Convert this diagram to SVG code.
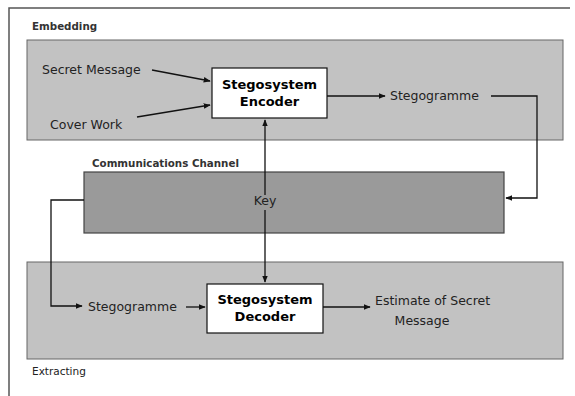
<svg xmlns="http://www.w3.org/2000/svg" width="575" height="396" viewBox="0 0 575 396">
<style>
text{font-family:"DejaVu Sans",Verdana,sans-serif;font-size:12.5px;fill:#222}
.b{font-weight:bold;font-size:13px;fill:#000}
.s{font-size:10.3px;font-weight:bold;fill:#333}
.c{stroke:#111;stroke-width:1.3;fill:none}
.box{fill:#fff;stroke:#111;stroke-width:1.2}
</style>
<defs>
<marker id="a" viewBox="0 0 10 10" refX="9" refY="5" markerWidth="7" markerHeight="7" orient="auto" markerUnits="userSpaceOnUse"><path d="M0,1 L10,5 L0,9 z" fill="#111"/></marker>
</defs>
<rect width="575" height="396" fill="#fff"/>
<path d="M9,396 V8 H570" fill="none" stroke="#555" stroke-width="1.5"/>
<g id="embedding">
<rect x="27" y="40" width="536" height="100" fill="#c2c2c2" stroke="#666" stroke-width="1"/>
<text x="32" y="30" class="s">Embedding</text>
</g>
<g id="extracting">
<rect x="27" y="262" width="536" height="97" fill="#c2c2c2" stroke="#666" stroke-width="1"/>
<text x="32" y="375" style="font-size:10.5px">Extracting</text>
</g>
<g id="channel">
<rect x="84" y="172" width="420" height="61" fill="#9a9a9a" stroke="#444" stroke-width="1.2"/>
<text x="92" y="167" class="s">Communications Channel</text>
</g>
<g id="secret"><text x="42" y="74">Secret Message</text></g>
<g id="cover"><text x="50" y="129">Cover Work</text></g>
<g id="encoder">
<rect x="212" y="68" width="115" height="50" class="box"/>
<text x="269.5" y="89" class="b" text-anchor="middle">Stegosystem</text>
<text x="269.5" y="106" class="b" text-anchor="middle">Encoder</text>
</g>
<g id="stego1"><text x="390" y="100">Stegogramme</text></g>
<g id="key"><text x="265" y="205" text-anchor="middle">Key</text></g>
<g id="stego2"><text x="88" y="311">Stegogramme</text></g>
<g id="decoder">
<rect x="207" y="284" width="116" height="49" class="box"/>
<text x="265" y="304" class="b" text-anchor="middle">Stegosystem</text>
<text x="265" y="321" class="b" text-anchor="middle">Decoder</text>
</g>
<g id="estimate">
<text x="375" y="305">Estimate of Secret</text>
<text x="422" y="325" text-anchor="middle">Message</text>
</g>
<g id="connectors">
<path class="c" d="M152,70 L210,81" marker-end="url(#a)"/>
<path class="c" d="M137,117 L210,105" marker-end="url(#a)"/>
<path class="c" d="M327,96 H385" marker-end="url(#a)"/>
<path class="c" d="M491,96 H537 V198 H506" marker-end="url(#a)"/>
<path class="c" d="M265,195 V120" marker-end="url(#a)"/>
<path class="c" d="M265,210 V282" marker-end="url(#a)"/>
<path class="c" d="M84,200 H51 V306 H82" marker-end="url(#a)"/>
<path class="c" d="M186,307 H205" marker-end="url(#a)"/>
<path class="c" d="M323,307 H370" marker-end="url(#a)"/>
</g>
</svg>
